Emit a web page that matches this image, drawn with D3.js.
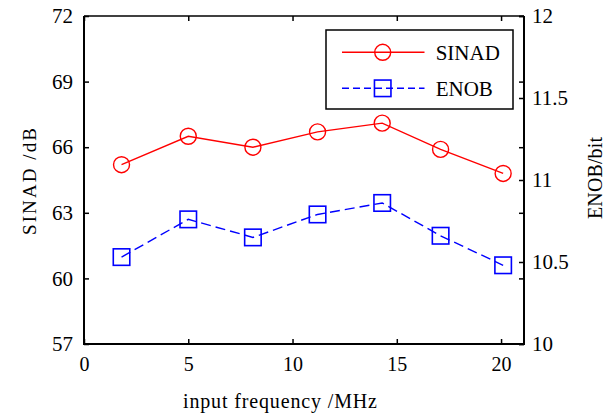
<!DOCTYPE html>
<html>
<head>
<meta charset="utf-8">
<script src="https://cdn.jsdelivr.net/npm/d3@7"></script>
<style>
  html, body { margin: 0; padding: 0; background: #fff; }
  svg { display: block; }
</style>
</head>
<body>
<svg id="chart" width="610" height="417"></svg>
<script>
// Input frequencies (MHz)
const frequency = [1.8, 5.0, 8.1, 11.2, 14.3, 17.1, 20.1];
// Signal-to-noise-and-distortion ratio (dB)
const sinad = [65.2, 66.5, 66.0, 66.7, 67.1, 65.9, 64.8];
// Effective number of bits
const enob = [10.53, 10.76, 10.65, 10.79, 10.86, 10.66, 10.48];

const xTicks = [0, 5, 10, 15, 20];
const sinadTicks = [57, 60, 63, 66, 69, 72];
const enobTicks = [10, 10.5, 11, 11.5, 12];
const seriesNames = ["SINAD", "ENOB"];

const FONT = "Liberation Serif";
const svg = d3.select("#chart");
const plot = { left: 84, right: 524, top: 16, bottom: 344 };

const x = d3.scaleLinear().domain([0, 21.1]).range([plot.left, plot.right]);
const yL = d3.scaleLinear().domain([57, 72]).range([plot.bottom, plot.top]);
const yR = d3.scaleLinear().domain([10, 12]).range([plot.bottom, plot.top]);

const red = "#ff0000", blue = "#0000ff";

function styleAxis(g, fontSize) {
  g.attr("font-family", null);
  g.select(".domain").remove();
  g.selectAll(".tick line").attr("stroke", "#000").attr("stroke-width", 1.5);
  g.selectAll(".tick text")
    .attr("fill", "#000")
    .style("font-family", FONT)
    .style("font-size", fontSize + "px");
}

// Bottom axis with labels
svg.append("g")
  .attr("transform", `translate(0,${plot.bottom})`)
  .call(d3.axisBottom(x).tickValues(xTicks).tickSize(-5).tickPadding(13).tickFormat(d3.format("d")))
  .call(g => styleAxis(g, 20));

// Top mirrored ticks
svg.append("g")
  .attr("transform", `translate(0,${plot.top})`)
  .call(d3.axisTop(x).tickValues(xTicks).tickSize(-5).tickFormat(""))
  .call(g => styleAxis(g, 20));

// Left axis (SINAD)
svg.append("g")
  .attr("transform", `translate(${plot.left},0)`)
  .call(d3.axisLeft(yL).tickValues(sinadTicks).tickSize(-5).tickPadding(11).tickFormat(d3.format("d")))
  .call(g => styleAxis(g, 21));

// Mirrored SINAD ticks on the right edge
svg.append("g")
  .attr("transform", `translate(${plot.right},0)`)
  .call(d3.axisRight(yL).tickValues(sinadTicks).tickSize(-5).tickFormat(""))
  .call(g => styleAxis(g, 21));

// Right axis (ENOB)
svg.append("g")
  .attr("transform", `translate(${plot.right},0)`)
  .call(d3.axisRight(yR).tickValues(enobTicks).tickSize(-5).tickPadding(8).tickFormat(d => String(d)))
  .call(g => styleAxis(g, 21));

// Axis frame
const frame = svg.append("g").attr("stroke", "#000").attr("stroke-width", 2).attr("fill", "none");
frame.append("path").attr("d",
  `M${plot.left},${plot.top}V${plot.bottom}H${plot.right}V${plot.top}`);
frame.append("path").attr("d",
  `M${plot.left},${plot.top}H${plot.right}`).attr("stroke-width", 1.5);

// SINAD series
const sinadLine = d3.line().x((d, i) => x(frequency[i])).y(d => yL(d));
svg.append("path")
  .datum(sinad)
  .attr("d", sinadLine)
  .attr("fill", "none").attr("stroke", red).attr("stroke-width", 1.4);
svg.append("g").selectAll("circle")
  .data(sinad).join("circle")
  .attr("cx", (d, i) => x(frequency[i]))
  .attr("cy", d => yL(d))
  .attr("r", 8)
  .attr("fill", "none").attr("stroke", red).attr("stroke-width", 1.4);

// ENOB series
const enobLine = d3.line().x((d, i) => x(frequency[i])).y(d => yR(d));
svg.append("path")
  .datum(enob)
  .attr("d", enobLine)
  .attr("fill", "none").attr("stroke", blue).attr("stroke-width", 1.4)
  .attr("stroke-dasharray", "10,5");
const sq = 16.5;
svg.append("g").selectAll("rect")
  .data(enob).join("rect")
  .attr("x", (d, i) => x(frequency[i]) - sq / 2)
  .attr("y", d => yR(d) - sq / 2)
  .attr("width", sq).attr("height", sq)
  .attr("fill", "none").attr("stroke", blue).attr("stroke-width", 1.6);

// Axis titles
svg.append("text")
  .attr("transform", "translate(36,181.5) rotate(-90)")
  .attr("text-anchor", "middle")
  .attr("textLength", 107).attr("lengthAdjust", "spacing")
  .style("font-family", FONT).style("font-size", "19px")
  .text("SINAD /dB");

svg.append("text")
  .attr("transform", "translate(602,178) rotate(-90)")
  .attr("text-anchor", "middle")
  .attr("textLength", 82).attr("lengthAdjust", "spacing")
  .style("font-family", FONT).style("font-size", "20px")
  .text("ENOB/bit");

svg.append("text")
  .attr("x", 280).attr("y", 408)
  .attr("text-anchor", "middle")
  .attr("textLength", 194).attr("lengthAdjust", "spacing")
  .style("font-family", FONT).style("font-size", "20px")
  .text("input frequency /MHz");

// Legend
const legend = svg.append("g");
legend.append("rect")
  .attr("x", 326).attr("y", 30).attr("width", 187).attr("height", 79)
  .attr("fill", "#fff").attr("stroke", "#000").attr("stroke-width", 1.5);

const legendRows = [
  { name: seriesNames[0], color: red, dash: null, y: 52.3, marker: "circle" },
  { name: seriesNames[1], color: blue, dash: "7,4", y: 88.3, marker: "square" }
];
legendRows.forEach(r => {
  legend.append("line")
    .attr("x1", 342).attr("x2", 424.5).attr("y1", r.y).attr("y2", r.y)
    .attr("stroke", r.color).attr("stroke-width", 1.4)
    .attr("stroke-dasharray", r.dash);
  if (r.marker === "circle") {
    legend.append("circle").attr("cx", 382.7).attr("cy", r.y).attr("r", 8)
      .attr("fill", "none").attr("stroke", r.color).attr("stroke-width", 1.4);
  } else {
    legend.append("rect").attr("x", 382.7 - sq / 2).attr("y", r.y - sq / 2)
      .attr("width", sq).attr("height", sq)
      .attr("fill", "none").attr("stroke", r.color).attr("stroke-width", 1.6);
  }
  legend.append("text")
    .attr("x", 435.7).attr("y", r.y).attr("dy", "0.35em")
    .style("font-family", FONT).style("font-size", "21px")
    .text(r.name);
});
</script>
</body>
</html>
